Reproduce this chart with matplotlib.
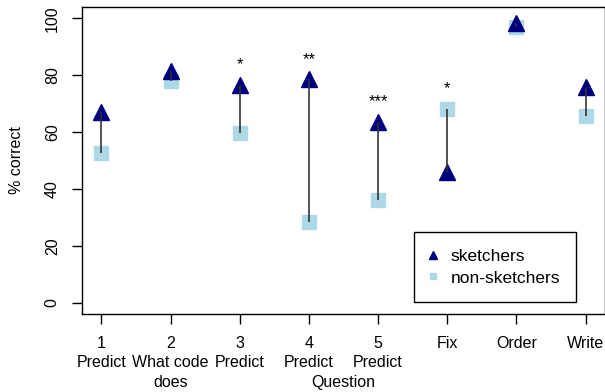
import numpy as np
import matplotlib
matplotlib.use("Agg")
import matplotlib.pyplot as plt

plt.rcParams['font.family'] = ['Liberation Sans', 'DejaVu Sans']

labels = ["1\nPredict", "2\nWhat code\ndoes", "3\nPredict", "4\nPredict",
          "5\nPredict", "Fix", "Order", "Write"]
sketchers = [67, 81.5, 76.5, 78.5, 63.5, 46, 98.5, 76]
non_sketchers = [52.5, 78, 59.5, 28.5, 36, 68, 97, 65.5]
stars = ["", "", "*", "**", "***", "*", "", ""]

X = np.arange(1, len(labels) + 1)

fig = plt.figure(figsize=(6.05, 3.92), dpi=100)
ax = fig.add_axes([82 / 605, 78 / 392, 523 / 605, 307 / 392])

ax.vlines(X, non_sketchers, sketchers, color='#333333', lw=1.2, zorder=3)
ax.plot(X, non_sketchers, 's', color='lightblue', ms=9.5, ls='none',
        label='non-sketchers', zorder=2)
ax.plot(X, sketchers, '^', color='navy', ms=11.5, ls='none',
        label='sketchers', zorder=2)

for x, s, a, b in zip(X, stars, sketchers, non_sketchers):
    if s:
        ax.text(x, max(a, b) + 4.5, s, ha='center', va='bottom', fontsize=12)

ax.set_xlim(0.72, 8.28)
ax.set_ylim(-4, 104)
ax.set_xticks(X)
ax.set_xticklabels(labels, fontsize=11.5, linespacing=1.35)
ax.set_yticks([0, 20, 40, 60, 80, 100])
ax.set_yticklabels(['0', '20', '40', '60', '80', '100'], rotation=90,
                   va='center', fontsize=11.5)
ax.tick_params(direction='out', length=7, width=1)
ax.tick_params(axis='x', pad=9)
ax.tick_params(axis='y', pad=9)
for sp in ax.spines.values():
    sp.set_linewidth(1)
ax.set_ylabel('% correct', fontsize=11.5, va='center')
ax.yaxis.set_label_coords(-65 / 523, 0.5)
ax.set_xlabel('Question', fontsize=11.5)
ax.xaxis.set_label_coords(0.5, -68 / 307)
ax.xaxis.label.set_va('center')

h, l = ax.get_legend_handles_labels()
leg = ax.legend(h[::-1], l[::-1], loc='lower left',
                bbox_to_anchor=((414 - 82) / 523, (314 - 302) / 307),
                fontsize=12.5, fancybox=False, edgecolor='black', framealpha=1,
                borderpad=0.95, handletextpad=0.85, labelspacing=0.37,
                markerscale=0.45, handlelength=0.3, borderaxespad=0)
leg.get_frame().set_linewidth(1)

fig.savefig('out.png', dpi=100)
